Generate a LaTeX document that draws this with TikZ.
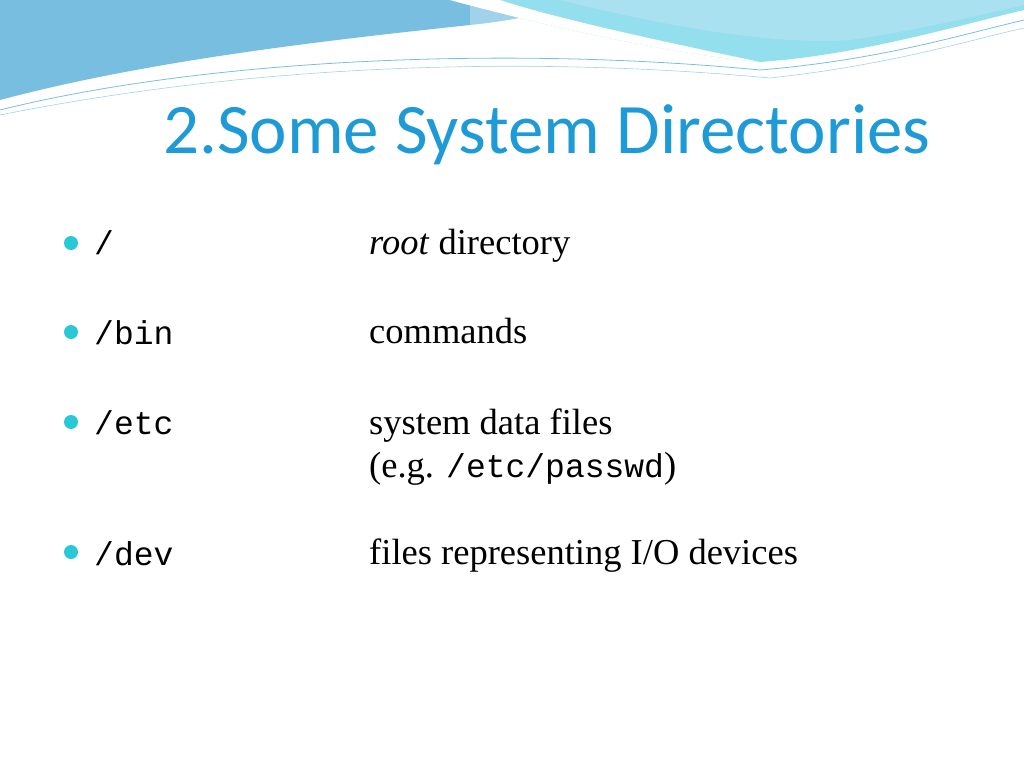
\documentclass[tikz,border=0pt]{standalone}
\usepackage{fontspec}
\setmainfont{Liberation Serif}
\newfontfamily\titlefont{Carlito}
\newfontfamily\monofont{Liberation Mono}
\begin{document}
\begin{tikzpicture}[x=1pt,y=-1pt,
  bul/.style={circle,fill={rgb,255:red,40;green,200;blue,215},inner sep=0pt,minimum size=14pt},
  dir/.style={anchor=base west,inner sep=0pt,font=\monofont\fontsize{33}{36}\selectfont},
  desc/.style={anchor=base west,inner sep=0pt,font=\fontsize{36.5}{42}\selectfont}]
\useasboundingbox (0,0) rectangle (1024,768);
\definecolor{wa}{RGB}{120,190,225}
\definecolor{wb}{RGB}{170,225,240}
\definecolor{wc}{RGB}{100,210,230}
% waves
\fill[wa] (0,0) -- (0,100) .. controls (150,60) and (330,40) .. (470,25) -- (470,0) -- cycle;
\fill[wa!70] (470,0) -- (470,25) .. controls (520,20) and (560,10) .. (580,0) -- cycle;
\fill[wc!70] (450,0) .. controls (560,30) and (680,55) .. (760,62) .. controls (860,55) and (960,25) .. (1024,10) -- (1024,0) -- cycle;
\fill[wb] (560,0) .. controls (680,30) and (780,45) .. (850,40) .. controls (920,30) and (980,15) .. (1024,5) -- (1024,0) -- cycle;
\fill[white] (450,0) .. controls (560,30) and (680,55) .. (760,62) .. controls (680,45) and (560,20) .. (500,0) -- cycle;
\draw[wa,line width=0.8pt] (0,110) .. controls (200,60) and (500,45) .. (760,70) .. controls (880,60) and (960,35) .. (1024,20);
\draw[wa!70,line width=0.6pt] (0,115) .. controls (250,65) and (520,55) .. (770,78) .. controls (890,65) and (970,40) .. (1024,28);
% title
\node[anchor=base west,inner sep=0pt,text={rgb,255:red,30;green,155;blue,215},font=\titlefont\fontsize{71}{74}\selectfont] (title) at (163,153) {2.Some System Directories};
% items
\node[bul] (b1) at (71,243) {};
\node[dir] (d1) at (94,254) {/};
\node[desc] (t1) at (369,254) {\textit{root} directory};
\node[bul] (b2) at (71,332) {};
\node[dir] (d2) at (94,344) {/bin};
\node[desc] (t2) at (369,343) {commands};
\node[bul] (b3) at (71,422) {};
\node[dir] (d3) at (94,434) {/etc};
\node[desc] (t3) at (369,434) {system data files};
\node[desc] (t3b) at (369,477) {(e.g. {\monofont\fontsize{33}{36}\selectfont/etc/passwd})};
\node[bul] (b4) at (71,552) {};
\node[dir] (d4) at (94,565) {/dev};
\node[desc] (t4) at (369,564) {files representing I/O devices};
\end{tikzpicture}
\end{document}
